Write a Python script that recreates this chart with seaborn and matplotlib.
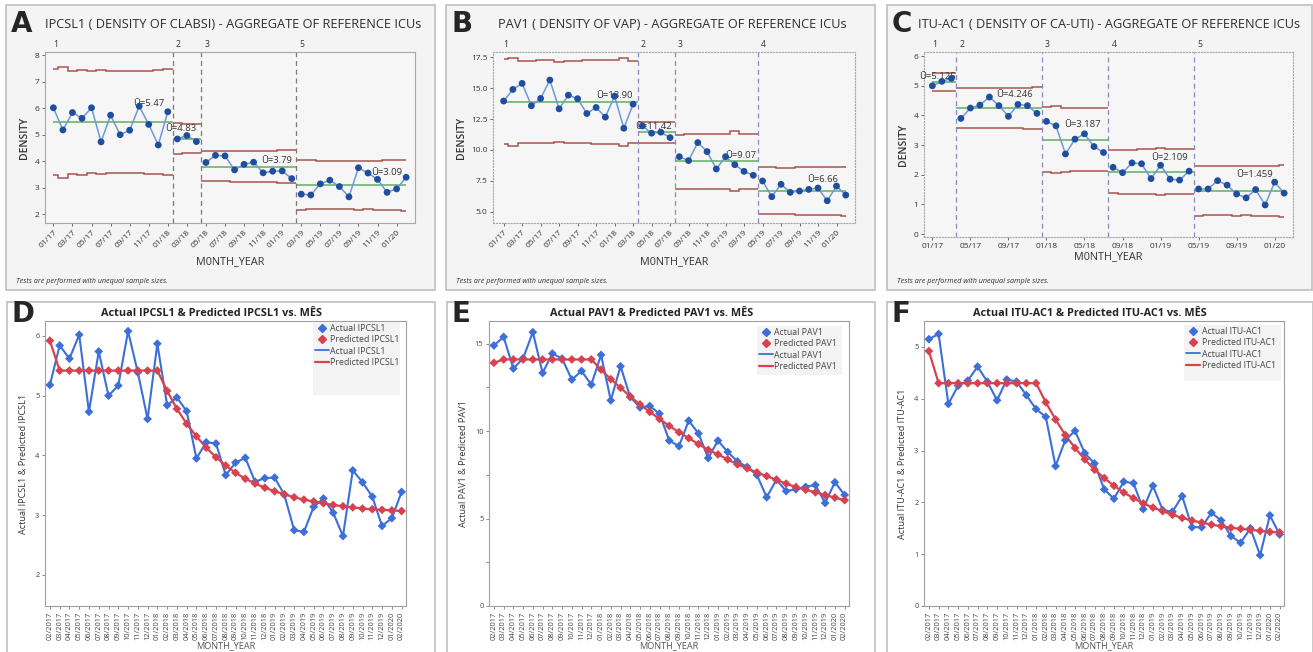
import matplotlib
matplotlib.use("Agg")
import matplotlib.pyplot as plt
from matplotlib.lines import Line2D
from matplotlib.patches import Rectangle
from matplotlib.ticker import MultipleLocator
import numpy as np
import pandas as pd
import seaborn as sns

W, H = 1313, 652

# ---------------- data ----------------
months_short = [f"{m:02d}/{y}" for y in (17, 18, 19, 20) for m in range(1, 13)][:38]
months_long = [f"{m:02d}/20{y}" for y in (17, 18, 19, 20) for m in range(1, 13)][1:38]

# control charts (01/17 .. 02/20)
ipcsl1 = [6.02, 5.18, 5.84, 5.62, 6.02, 4.73, 5.74, 5.00, 5.17, 6.08, 5.39, 4.61, 5.87,
          4.84, 4.97, 4.74,
          3.95, 4.22, 4.20, 3.67, 3.88, 3.96, 3.56, 3.62, 3.63, 3.34,
          2.75, 2.72, 3.14, 3.28, 3.04, 2.65, 3.75, 3.55, 3.31, 2.82, 2.95, 3.39]
ipcsl1_ucl = [7.48, 7.58, 7.42, 7.46, 7.40, 7.45, 7.41, 7.42, 7.42, 7.42, 7.42, 7.45, 7.48,
              5.43, 5.41, 5.41,
              4.37, 4.37, 4.38, 4.38, 4.38, 4.38, 4.40, 4.40, 4.42, 4.44,
              4.05, 4.03, 4.02, 4.01, 4.01, 4.00, 4.01, 4.02, 4.02, 4.03, 4.03, 4.05]
ipcsl1_lcl = [3.48, 3.37, 3.53, 3.49, 3.55, 3.51, 3.56, 3.55, 3.54, 3.54, 3.53, 3.50, 3.48,
              4.26, 4.31, 4.29,
              3.26, 3.25, 3.24, 3.22, 3.22, 3.22, 3.21, 3.21, 3.19, 3.17,
              2.17, 2.19, 2.19, 2.18, 2.18, 2.18, 2.17, 2.18, 2.17, 2.16, 2.15, 2.13]
ipcsl1_sizes = [13, 3, 10, 12]
ipcsl1_stages = ["1", "2", "3", "5"]
ipcsl1_centers = [5.47, 4.83, 3.79, 3.09]

pav1 = [13.96, 14.90, 15.39, 13.58, 14.17, 15.66, 13.33, 14.44, 14.15, 12.95, 13.44, 12.66, 14.36, 11.76, 13.71,
        11.95, 11.36, 11.44, 11.00,
        9.46, 9.14, 10.60, 9.87, 8.46, 9.46, 8.81, 8.27, 7.95,
        7.49, 6.22, 7.22, 6.57, 6.68, 6.81, 6.92, 5.89, 7.08, 6.35]
pav1_ucl = [17.35, 17.45, 17.22, 17.22, 17.25, 17.25, 17.15, 17.20, 17.22, 17.25, 17.25, 17.28, 17.28, 17.45, 17.20,
            12.30, 12.30, 12.30, 12.30,
            11.25, 11.27, 11.28, 11.30, 11.30, 11.32, 11.50, 11.32, 11.32,
            8.62, 8.60, 8.58, 8.55, 8.60, 8.62, 8.62, 8.62, 8.63, 8.65]
pav1_lcl = [10.45, 10.30, 10.55, 10.58, 10.60, 10.60, 10.65, 10.60, 10.58, 10.55, 10.52, 10.50, 10.50, 10.30, 10.58,
            10.55, 10.55, 10.55, 10.55,
            6.88, 6.86, 6.85, 6.84, 6.83, 6.82, 6.65, 6.82, 6.82,
            4.82, 4.80, 4.80, 4.78, 4.77, 4.75, 4.75, 4.74, 4.72, 4.68]
pav1_sizes = [15, 4, 9, 10]
pav1_stages = ["1", "2", "3", "4"]
pav1_centers = [13.90, 11.42, 9.07, 6.66]

ituac1 = [5.00, 5.15, 5.25,
          3.90, 4.25, 4.35, 4.62, 4.33, 3.97, 4.37, 4.33, 4.07,
          3.80, 3.65, 2.70, 3.20, 3.38, 2.95, 2.75,
          2.25, 2.07, 2.40, 2.37, 1.87, 2.32, 1.85, 1.82, 2.12,
          1.52, 1.52, 1.80, 1.65, 1.35, 1.22, 1.50, 0.98, 1.75, 1.38]
ituac1_ucl = [5.44, 5.44, 5.44,
              4.93, 4.92, 4.92, 4.93, 4.93, 4.93, 4.93, 4.94, 4.95,
              4.28, 4.31, 4.26, 4.25, 4.25, 4.25, 4.25,
              2.83, 2.85, 2.85, 2.86, 2.87, 2.90, 2.87, 2.87, 2.87,
              2.28, 2.28, 2.28, 2.28, 2.29, 2.29, 2.30, 2.30, 2.30, 2.33]
ituac1_lcl = [4.81, 4.81, 4.81,
              3.56, 3.58, 3.58, 3.57, 3.57, 3.56, 3.56, 3.55, 3.53,
              2.10, 2.05, 2.10, 2.12, 2.12, 2.12, 2.13,
              1.38, 1.36, 1.35, 1.35, 1.34, 1.32, 1.34, 1.34, 1.34,
              0.62, 0.64, 0.64, 0.63, 0.62, 0.64, 0.62, 0.62, 0.62, 0.59]
ituac1_sizes = [3, 9, 7, 9, 10]
ituac1_stages = ["1", "2", "3", "4", "5"]
ituac1_centers = [5.125, 4.246, 3.187, 2.109, 1.459]

# predicted models (02/2017 .. 02/2020)
ipcsl1_pred = [5.92, 5.42, 5.42, 5.42, 5.42, 5.42, 5.42, 5.42, 5.42, 5.42, 5.42, 5.42,
               5.08, 4.78, 4.53, 4.32, 4.13, 3.97, 3.83, 3.71, 3.61, 3.53, 3.46, 3.40,
               3.35, 3.30, 3.26, 3.23, 3.20, 3.17, 3.15, 3.13, 3.11, 3.10, 3.09, 3.08, 3.07]
pav1_pred = [13.91, 14.10, 14.10, 14.10, 14.10, 14.10, 14.10, 14.10, 14.10, 14.10, 14.10,
             13.52, 12.97, 12.48, 11.98, 11.53, 11.10, 10.70, 10.30, 9.94, 9.60, 9.26, 8.93,
             8.67, 8.38, 8.10, 7.87, 7.64, 7.43, 7.22, 7.00, 6.80, 6.65, 6.50, 6.35, 6.20, 6.05]
ituac1_pred = [4.92, 4.30, 4.30, 4.30, 4.30, 4.30, 4.30, 4.30, 4.30, 4.30, 4.30, 4.30,
               3.93, 3.60, 3.30, 3.05, 2.83, 2.63, 2.47, 2.32, 2.19, 2.08, 1.98,
               1.90, 1.83, 1.76, 1.70, 1.65, 1.61, 1.57, 1.54, 1.51, 1.49, 1.47, 1.45, 1.43, 1.42]

# ---------------- style ----------------
sns.set_theme(style="white")
plt.rcParams['font.family'] = ['Open Sans', 'DejaVu Sans']
plt.rcParams['axes.linewidth'] = 0.8

C_PT = "#1f4e9e"
C_LN = "#6d9ad6"
C_CL = "#6cb36c"
C_LIM = "#a9554f"
C_ACT = "#3c6fd8"
C_PRED = "#d8424f"

fig = plt.figure(figsize=(W / 100, H / 100), dpi=100)


def px_rect(x0, y0, x1, y1):
    return [x0 / W, 1 - y1 / H, (x1 - x0) / W, (y1 - y0) / H]


def panel_box(x0, y0, x1, y1, fc):
    fig.add_artist(Rectangle((x0 / W, 1 - y1 / H), (x1 - x0) / W, (y1 - y0) / H,
                             transform=fig.transFigure, facecolor=fc,
                             edgecolor="#c4c4c4", linewidth=1.3, zorder=-1))


def control_panel(box, rect, letter, title, values, ucl, lcl, sizes, stages, centers,
                  fmt, ylim, yticks, tick_every, rot, dash_color, frame_ls, annot, title_x):
    panel_box(*box, "#f4f4f4")
    fig.text((box[0] + 5) / W, 1 - 24 / H, letter, fontsize=20, fontweight="bold",
             family="DejaVu Sans", va="center", ha="left")
    fig.text(title_x / W, 1 - 24 / H, title, fontsize=9.2, va="center", ha="left", color="#2e2e2e")
    fig.text((box[0] + 10) / W, 1 - 281 / H, "Tests are performed with unequal sample sizes.",
             fontsize=5.2, style="italic", color="#333333", va="center")

    ax = fig.add_axes(px_rect(*rect))
    ax.set_facecolor("#f6f6f6")
    n = len(values)
    df = pd.DataFrame({"idx": np.arange(n), "val": values, "ucl": ucl, "lcl": lcl})
    starts = np.cumsum([0] + sizes[:-1])
    for k, (s, size) in enumerate(zip(starts, sizes)):
        e = s + size
        seg = df.iloc[s:e]
        edges = np.arange(s - 0.5, e + 0.5)
        edges[0] = max(edges[0], 0)
        edges[-1] = min(edges[-1], n - 1)
        ax.stairs(seg["ucl"], edges, color=C_LIM, linewidth=1.1, baseline=None)
        ax.stairs(seg["lcl"], edges, color=C_LIM, linewidth=1.1, baseline=None)
        ax.hlines(centers[k], edges[0], edges[-1], color=C_CL, linewidth=1.2)
        sns.lineplot(data=seg, x="idx", y="val", color=C_LN, linewidth=1.1, ax=ax)
        sns.scatterplot(data=seg, x="idx", y="val", color=C_PT, s=24, edgecolor="none", ax=ax, zorder=4)
        if k > 0:
            ax.axvline(s - 0.5, color=dash_color, linestyle=(0, (4, 3)), linewidth=0.9)
        lx = s - 0.5 + 0.35 if k > 0 else 0.0
        ax.text(lx, 1.015, stages[k], transform=ax.get_xaxis_transform(), fontsize=6.2,
                va="bottom", ha="left", color="#333333")
        dx, dy = annot[k]
        ax.annotate("\u016a=" + fmt.format(centers[k]), (edges[-1] - dx, centers[k]),
                    xytext=(0, dy * 0.72), textcoords="offset points",
                    ha="right", va="center", fontsize=6.8, color="#333333")

    ax.set_xlim(-0.88, n - 1 + 0.93)
    ax.set_ylim(*ylim)
    ax.set_yticks(yticks)
    ax.set_xticks(np.arange(0, n, tick_every))
    ax.set_xticklabels(months_short[::tick_every])
    ax.tick_params(axis="both", labelsize=6.0, length=2.5, width=0.6, colors="#555555",
                   labelcolor="#333333", pad=1.5, bottom=True, left=True)
    if rot:
        for lab in ax.get_xticklabels():
            lab.set_rotation(45)
            lab.set_ha("right")
            lab.set_rotation_mode("anchor")
    ax.set_xlabel("M0NTH_YEAR", fontsize=7.8, color="#333333", labelpad=5 if rot else 1)
    ax.set_ylabel("DENSITY", fontsize=7.4, fontweight="semibold", color="#333333", labelpad=3)
    for sp in ax.spines.values():
        sp.set_color("#a8a8a8")
        sp.set_linestyle(frame_ls)
        sp.set_linewidth(0.8)
    return ax


def model_panel(box, rect, letter, name, actual, pred, ylim, yticks, minor, title_x, leg_box):
    panel_box(*box, "white")
    fig.text((box[0] + 5) / W, 1 - 314 / H, letter, fontsize=20, fontweight="bold",
             family="DejaVu Sans", va="center", ha="left")
    fig.text(title_x / W, 1 - 313 / H, f"Actual {name} & Predicted {name} vs. MÊS",
             fontsize=7.8, fontweight="bold", va="center", ha="center", color="#222222")
    ax = fig.add_axes(px_rect(*rect))
    ax.set_facecolor("white")
    df = pd.DataFrame({"idx": np.arange(len(actual)), "actual": actual, "pred": pred})
    sns.lineplot(data=df, x="idx", y="actual", color=C_ACT, linewidth=1.5, ax=ax)
    sns.lineplot(data=df, x="idx", y="pred", color=C_PRED, linewidth=1.6, ax=ax)
    sns.scatterplot(data=df, x="idx", y="actual", color=C_ACT, marker="D", s=20,
                    edgecolor="none", ax=ax, zorder=4)
    sns.scatterplot(data=df, x="idx", y="pred", color=C_PRED, marker="D", s=20,
                    edgecolor="none", ax=ax, zorder=4)
    ax.set_xlim(-0.5, len(actual) - 0.55)
    ax.set_ylim(*ylim)
    ax.set_yticks(yticks)
    if minor:
        ax.yaxis.set_minor_locator(MultipleLocator(minor))
    ax.set_xticks(np.arange(len(actual)))
    ax.set_xticklabels(months_long, rotation=90)
    ax.tick_params(axis="both", which="both", labelsize=5.4, length=2.5, width=0.6,
                   colors="#777777", labelcolor="#444444", pad=1.5, bottom=True, left=True)
    ax.tick_params(axis="y", which="minor", length=2)
    ax.set_xlabel("MONTH_YEAR", fontsize=6.6, color="#555555", labelpad=1)
    ax.set_ylabel(f"Actual {name} & Predicted {name}", fontsize=6.6, color="#333333", labelpad=5)
    for sp in ax.spines.values():
        sp.set_color("#a0a0a0")
        sp.set_linewidth(0.8)

    # grey legend panel (pixel box inside the axes)
    x0, y0, x1, y1 = leg_box
    ax_x0, ax_y0, ax_x1, ax_y1 = rect
    bx = (x0 - ax_x0) / (ax_x1 - ax_x0)
    by = (ax_y1 - y1) / (ax_y1 - ax_y0)
    bw = (x1 - x0) / (ax_x1 - ax_x0)
    bh = (y1 - y0) / (ax_y1 - ax_y0)
    ax.add_patch(Rectangle((bx, by), bw, bh, transform=ax.transAxes,
                           facecolor="#f3f3f3", edgecolor="none", zorder=5))
    handles = [
        Line2D([], [], linestyle="none", marker="D", markersize=3.8, color=C_ACT),
        Line2D([], [], linestyle="none", marker="D", markersize=3.8, color=C_PRED),
        Line2D([], [], color=C_ACT, linewidth=1.3),
        Line2D([], [], color=C_PRED, linewidth=1.6),
    ]
    labels = [f"Actual {name}", f"Predicted {name}", f"Actual {name}", f"Predicted {name}"]
    leg = ax.legend(handles, labels, loc="upper left", bbox_to_anchor=(bx, by + bh),
                    fontsize=6.3, frameon=False, handlelength=1.6, handletextpad=0.15,
                    labelspacing=0.25, borderpad=0.25, borderaxespad=0.0)
    leg.set_zorder(6)
    for t in leg.get_texts():
        t.set_color("#444444")
    return ax


# ---------------- top row: control charts ----------------
control_panel((6, 5, 435, 290), (45, 52, 415, 223), "A",
              "IPCSL1 ( DENSITY OF CLABSI) - AGGREGATE OF REFERENCE ICUs",
              ipcsl1, ipcsl1_ucl, ipcsl1_lcl, ipcsl1_sizes, ipcsl1_stages, ipcsl1_centers,
              "{:.2f}", (1.66, 8.13), [2, 3, 4, 5, 6, 7, 8], 2, True, "#7a7a7a", "-",
              [(0.9, 19), (0.5, 11), (0.45, 6), (0.45, 13)], 45)

ax_b = control_panel((446, 5, 875, 290), (493, 52, 855, 223), "B",
                     "PAV1 ( DENSITY OF VAP) - AGGREGATE OF REFERENCE ICUs",
                     pav1, pav1_ucl, pav1_lcl, pav1_sizes, pav1_stages, pav1_centers,
                     "{:.2f}", (4.09, 17.93), [5.0, 7.5, 10.0, 12.5, 15.0, 17.5], 2, True,
                     "#8a88c0", ":", [(0.55, 6), (0.35, 6), (0.2, 6), (0.85, 12)], 498)
ax_b.set_yticklabels(["5.0", "7.5", "10.0", "12.5", "15.0", "17.5"])
ax_b.set_xlim(-1.15, 38.0)

control_panel((887, 5, 1312, 290), (924, 52, 1293, 237), "C",
              "ITU-AC1 ( DENSITY OF CA-UTI) - AGGREGATE OF REFERENCE ICUs",
              ituac1, ituac1_ucl, ituac1_lcl, ituac1_sizes, ituac1_stages, ituac1_centers,
              "{:.3f}", (-0.1, 6.14), [0, 1, 2, 3, 4, 5, 6], 4, False, "#8a88c0", ":",
              [(0.0, 6), (0.9, 14), (0.85, 15), (0.65, 14), (1.2, 16)], 918)

# ---------------- bottom row: actual vs predicted ----------------
model_panel((7, 302, 435, 660), (45, 321, 406, 606), "D", "IPCSL1",
            ipcsl1[1:], ipcsl1_pred, (1.48, 6.25), [2, 3, 4, 5, 6], None, 211,
            (313, 322, 400, 395))
model_panel((447, 302, 875, 660), (489, 321, 849, 606), "E", "PAV1",
            pav1[1:], pav1_pred, (0, 16.3), [0, 5, 10, 15], 2.5, 652,
            (757, 326, 842, 375))
model_panel((887, 302, 1313, 660), (924, 321, 1284, 606), "F", "ITU-AC1",
            ituac1[1:], ituac1_pred, (0, 5.5), [0, 1, 2, 3, 4, 5], None, 1090,
            (1184, 325, 1281, 381))

fig.savefig("out.png", dpi=100, facecolor="white")
